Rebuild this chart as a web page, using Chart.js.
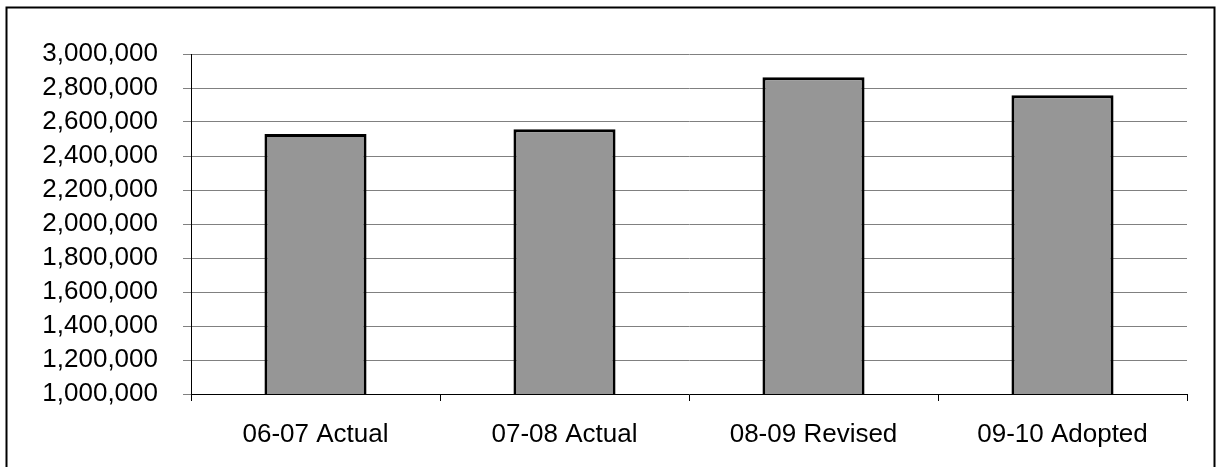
<!DOCTYPE html>
<html>
<head>
<meta charset="utf-8">
<script src="https://cdn.jsdelivr.net/npm/chart.js@4.4.1/dist/chart.umd.min.js"></script>
<style>
  html, body { margin: 0; padding: 0; background: #ffffff; overflow: hidden; }
  #wrap { position: absolute; left: 0; top: 0; width: 1217px; height: 467px; }
</style>
</head>
<body>
<div id="wrap"><canvas id="chart"></canvas></div>
<script>
// Budget totals by fiscal year
const categories = ['06-07 Actual', '07-08 Actual', '08-09 Revised', '09-10 Adopted'];
const amounts = [2530000, 2557000, 2863000, 2758000];
const yMin = 1000000;
const yMax = 3000000;
const yStep = 200000;

const FONT = "'Liberation Sans', Arial, sans-serif";

// Frame around the whole chart
const framePlugin = {
  id: 'frame',
  afterDraw(chart) {
    const c = chart.ctx;
    c.save();
    c.strokeStyle = '#000000';
    c.lineWidth = 2;
    c.strokeRect(6.5, 7.5, 1208, 520);
    c.restore();
  }
};

new Chart(document.getElementById('chart'), {
  type: 'bar',
  data: {
    labels: categories,
    datasets: [{
      data: amounts,
      backgroundColor: '#969696',
      borderColor: '#000000',
      borderWidth: 3,
      borderSkipped: false,
      barPercentage: 0.41,
      categoryPercentage: 1.0
    }]
  },
  options: {
    responsive: true,
    maintainAspectRatio: false,
    animation: false,
    layout: { padding: { top: 54, right: 30, bottom: 0, left: 0 } },
    plugins: {
      legend: { display: false },
      tooltip: { enabled: false }
    },
    scales: {
      x: {
        offset: true,
        afterFit(scale) { scale.height = 73; },
        grid: {
          offset: true,
          drawOnChartArea: false,
          drawTicks: true,
          tickLength: 7,
          tickColor: '#000000',
          lineWidth: 1
        },
        border: { display: true, color: '#000000', width: 1 },
        ticks: {
          color: '#000000',
          padding: 18,
          maxRotation: 0,
          autoSkip: false,
          font: { family: FONT, size: 26 }
        }
      },
      y: {
        min: yMin,
        max: yMax,
        afterFit(scale) { scale.width = 191; },
        grid: {
          color: (ctx) => (ctx.tick && ctx.tick.value === yMin) ? 'rgba(0,0,0,0)' : '#808080',
          tickColor: '#808080',
          tickLength: 8,
          lineWidth: 1
        },
        border: { display: true, color: '#000000', width: 1 },
        ticks: {
          stepSize: yStep,
          autoSkip: false,
          color: '#000000',
          padding: 25,
          font: { family: FONT, size: 26 },
          callback: (v) => v.toLocaleString('en-US')
        }
      }
    }
  },
  plugins: [framePlugin]
});
</script>
</body>
</html>
